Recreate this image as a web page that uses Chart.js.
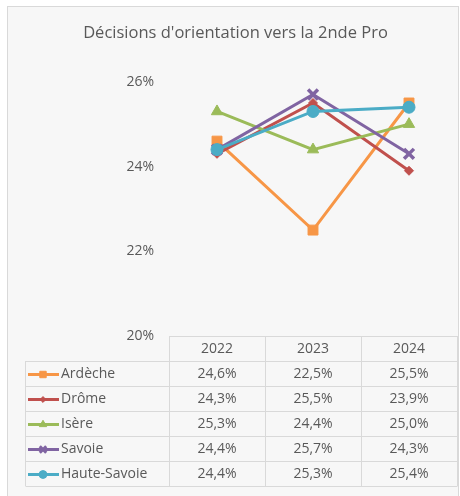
<!DOCTYPE html>
<html>
<head>
<meta charset="utf-8">
<script src="https://cdn.jsdelivr.net/npm/chart.js@4.4.1/dist/chart.umd.min.js"></script>
<style>
  html, body { margin: 0; padding: 0; background: #fff; }
  #wrap { width: 460px; height: 496px; }
</style>
</head>
<body>
<div id="wrap"><canvas id="chart" width="460" height="496"></canvas></div>
<script>
const years = ['2022', '2023', '2024'];
const departements = ['Ardèche', 'Drôme', 'Isère', 'Savoie', 'Haute-Savoie'];
const ardeche = [24.6, 22.5, 25.5];
const drome = [24.3, 25.5, 23.9];
const isere = [25.3, 24.4, 25.0];
const savoie = [24.4, 25.7, 24.3];
const hauteSavoie = [24.4, 25.3, 25.4];
const yTicks = [20, 22, 24, 26];

const colors = ['#f79646', '#c0504d', '#9bbb59', '#8064a2', '#4bacc6'];
const markers = ['rect', 'rectRot', 'triangle', 'crossRot', 'circle'];
const markerSizes = [7, 4.5, 6.5, 7, 6];
const series = [ardeche, drome, isere, savoie, hauteSavoie];

const FONT = '"Open Sans", sans-serif';
const TEXT = '#595959';
const GRID = '#d9d9d9';

const fmt = v => v.toFixed(1).replace('.', ',') + '%';

// frame behind the chart
const framePlugin = {
  id: 'frame',
  beforeDraw(chart) {
    const ctx = chart.ctx;
    ctx.save();
    ctx.fillStyle = '#ffffff';
    ctx.fillRect(0, 0, chart.width, chart.height);
    ctx.fillStyle = '#f7f7f7';
    ctx.fillRect(7.5, 6.5, 451, 500);
    ctx.strokeStyle = GRID;
    ctx.lineWidth = 1;
    ctx.strokeRect(7.5, 6.5, 451, 500);
    ctx.restore();
  }
};

// data table under the plot, like the Excel one
const tablePlugin = {
  id: 'dataTable',
  afterDraw(chart) {
    const ctx = chart.ctx;
    const x = chart.scales.x;
    const area = chart.chartArea;
    const rowH = 25;
    const top = area.bottom;
    const left = 25;
    const colW = (area.right - area.left) / years.length;
    const nRows = departements.length;
    const bottom = top + rowH * (nRows + 1);

    ctx.save();
    ctx.strokeStyle = GRID;
    ctx.lineWidth = 1;
    ctx.beginPath();
    // horizontal lines
    ctx.moveTo(Math.round(area.left) + 0.5, top + 0.5);
    ctx.lineTo(Math.round(area.right) + 0.5, top + 0.5);
    for (let r = 1; r <= nRows + 1; r++) {
      const y = top + r * rowH + 0.5;
      ctx.moveTo(left + 0.5, y);
      ctx.lineTo(Math.round(area.right) + 0.5, y);
    }
    // vertical lines
    ctx.moveTo(left + 0.5, top + rowH);
    ctx.lineTo(left + 0.5, bottom);
    for (let c = 0; c <= years.length; c++) {
      const xx = Math.round(area.left + c * colW) + 0.5;
      ctx.moveTo(xx, top);
      ctx.lineTo(xx, bottom);
    }
    ctx.stroke();

    ctx.font = '14px ' + FONT;
    ctx.fillStyle = TEXT;
    ctx.textBaseline = 'middle';
    ctx.textAlign = 'center';
    years.forEach((yr, i) => {
      ctx.fillText(yr, x.getPixelForValue(i), top + rowH / 2 + 1);
    });

    departements.forEach((name, r) => {
      const cy = top + (r + 1) * rowH + rowH / 2 + 1;
      // legend key
      ctx.strokeStyle = colors[r];
      ctx.lineWidth = 3;
      ctx.beginPath();
      ctx.moveTo(28, cy);
      ctx.lineTo(59, cy);
      ctx.stroke();
      ctx.fillStyle = colors[r];
      ctx.lineWidth = markers[r] === 'crossRot' ? 3 : 1;
      Chart.helpers.drawPoint(ctx, {
        pointStyle: markers[r],
        radius: markerSizes[r] * 0.65,
        borderWidth: ctx.lineWidth
      }, 43, cy);

      ctx.fillStyle = TEXT;
      ctx.textAlign = 'left';
      ctx.fillText(name, 61, cy);
      ctx.textAlign = 'center';
      series[r].forEach((v, i) => {
        ctx.fillText(fmt(v), x.getPixelForValue(i), cy);
      });
    });
    ctx.restore();
  }
};

new Chart(document.getElementById('chart'), {
  type: 'line',
  data: {
    labels: years,
    datasets: departements.map((name, i) => ({
      label: name,
      data: series[i],
      borderColor: colors[i],
      backgroundColor: colors[i],
      borderWidth: 3,
      pointStyle: markers[i],
      pointRadius: markerSizes[i],
      pointBorderWidth: markers[i] === 'crossRot' ? 3.5 : 1,
      pointBorderColor: colors[i],
      pointBackgroundColor: colors[i],
      tension: 0,
      order: departements.length - i
    }))
  },
  options: {
    responsive: false,
    animation: false,
    devicePixelRatio: 1,
    layout: { autoPadding: false, padding: { left: 14, right: 3, top: 0, bottom: 160 } },
    plugins: {
      legend: { display: false },
      tooltip: { enabled: false },
      title: {
        display: true,
        text: "Décisions d'orientation vers la 2nde Pro",
        color: TEXT,
        font: { family: FONT, size: 16.5, weight: 'normal' },
        padding: { top: 23, bottom: 39 }
      }
    },
    scales: {
      x: {
        type: 'category',
        offset: true,
        display: false
      },
      y: {
        min: yTicks[0],
        max: yTicks[yTicks.length - 1],
        afterFit(scale) { scale.width = 155; },
        afterBuildTicks(scale) { scale.ticks = yTicks.map(v => ({ value: v })); },
        grid: { display: false, drawTicks: false },
        border: { display: false },
        ticks: {
          padding: 15,
          color: TEXT,
          font: { family: FONT, size: 14 },
          callback: v => v + '%'
        }
      }
    }
  },
  plugins: [framePlugin, tablePlugin]
});
</script>
</body>
</html>
